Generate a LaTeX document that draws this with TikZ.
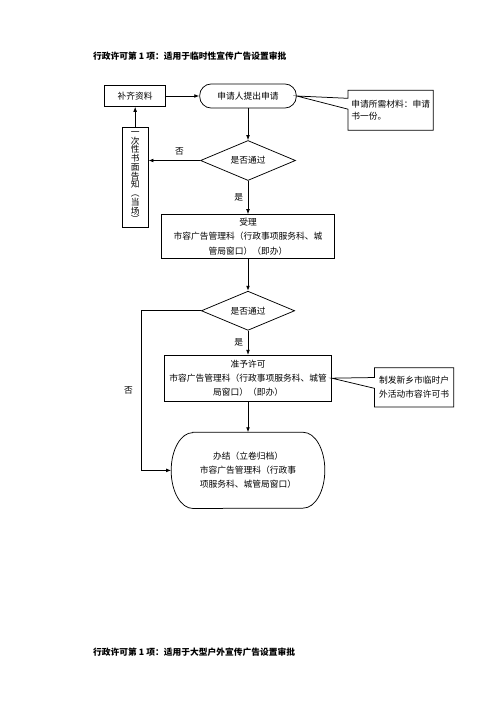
\documentclass[tikz,border=0pt]{standalone}
\usepackage{fontspec}
\setmainfont{Noto Sans CJK SC}
\usepackage{graphicx}
\usepackage{tikz}
\usetikzlibrary{positioning,arrows.meta,shapes.geometric,shapes.callouts}

\begin{document}
\begin{tikzpicture}[
  x=1.2pt, y=-1.2pt,
  >={Latex[length=6pt,width=4.5pt]},
  font=\fontsize{10.5}{17}\selectfont,
  box/.style={draw, line width=0.9pt, align=center, inner sep=2pt},
  term/.style={box, rounded corners=14pt, minimum width=116pt, minimum height=29pt},
  decide/.style={draw, line width=0.9pt, diamond, aspect=2.4, minimum width=114pt, minimum height=48pt, inner sep=0pt},
  note/.style={draw, line width=0.9pt, rectangle callout, callout pointer width=13pt, inner sep=4pt},
  title/.style={anchor=west, inner sep=0pt, font=\bfseries\fontsize{10.5}{12}\selectfont},
  arr/.style={->, line width=0.9pt}
]
  \useasboundingbox (0,0) rectangle (496,702);
  \node[title] (head) at (93,56) {行政许可第 1 项：适用于临时性宣传广告设置审批};
  \node[title] (head2) at (93,652) {行政许可第 1 项：适用于大型户外宣传广告设置审批};

  \node[term] (apply) at (248,96) {申请人提出申请};
  \node[box, minimum width=73pt, minimum height=25pt, left=40pt of apply] (supp) {补齐资料};
  \node[note, align=left, minimum height=48pt, right=61pt of apply, yshift=-17pt,
        callout absolute pointer={(apply.east)}, font=\fontsize{10.5}{15}\selectfont] (need) {申请所需材料：申请\\书一份。};
  \node[decide, below=38pt of apply] (chk1) {是否通过};
  \node[box, inner sep=3pt, minimum width=31pt, minimum height=120pt, below=24pt of supp,
        font=\fontsize{10.5}{10.5}\selectfont] (tell) {一\\次\\性\\书\\面\\告\\知\\︵\\当\\场\\︶};
  \node[box, minimum width=208pt, minimum height=53pt, below=40pt of chk1] (accept) {受理\\市容广告管理科（行政事项服务科、城\\管局窗口）（即办）};
  \node[decide, minimum width=112pt, minimum height=47pt, below=38pt of accept] (chk2) {是否通过};
  \node[box, minimum width=200pt, minimum height=55pt, below=29pt of chk2] (grant) {准予许可\\市容广告管理科（行政事项服务科、城管\\局窗口）（即办）};
  \node[note, align=center, minimum width=95pt, minimum height=47pt, right=51pt of grant, yshift=-11pt,
        callout absolute pointer={(grant.east)}] (issue) {制发新乡市临时户\\外活动市容许可书};
  \node[align=center, minimum width=184pt, minimum height=91pt, below=37pt of grant] (done) {办结（立卷归档）\\市容广告管理科（行政事\\项服务科、城管局窗口）};
  % end box with flat round sides
  \draw[line width=0.9pt] ([xshift=26pt]done.north west) -- ([xshift=-26pt]done.north east)
    arc[start angle=90, end angle=-90, x radius=26pt, y radius=45.5pt]
    -- ([xshift=26pt]done.south west)
    arc[start angle=270, end angle=90, x radius=26pt, y radius=45.5pt] -- cycle;

  \draw[arr] (supp) -- (apply);
  \draw[arr] (tell) -- (supp);
  \draw[arr] (apply) -- (chk1);
  \draw[arr] (chk1.west) -- node[above=2pt, pos=0.4]{否} (chk1.west -| tell.east);
  \draw[arr] (chk1) -- node[left=2pt]{是} (accept);
  \draw[arr] (accept) -- (chk2);
  \draw[arr] (chk2) -- node[left=2pt]{是} (grant);
  \draw[arr] (grant) -- (done);
  \coordinate (back) at ([xshift=-72pt]chk2.west);
  \draw[arr] (chk2.west) -- (back) |- node[pos=0.25, left=6pt]{否} (done.west);
\end{tikzpicture}
\end{document}
